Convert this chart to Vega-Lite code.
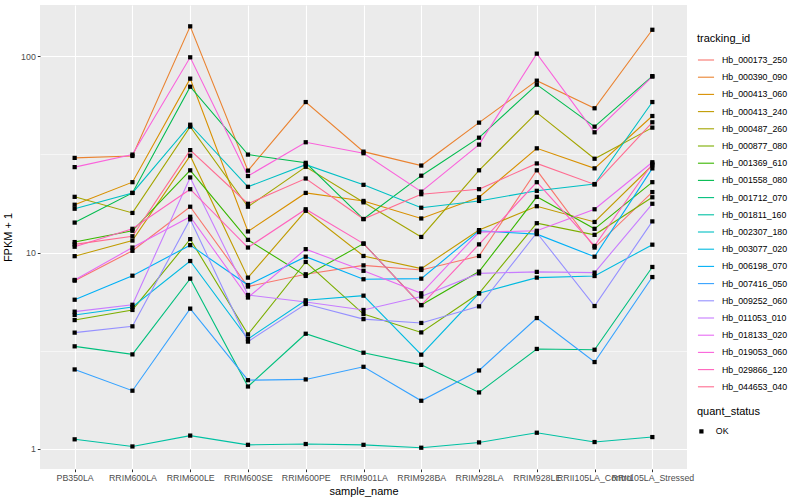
{
"$schema": "https://vega.github.io/schema/vega-lite/v6.json",
"width": 647, "height": 464,
"autosize": {"type": "none"},
"padding": {"left": 40, "top": 5, "right": 113, "bottom": 31},
"background": "white",
"config": {
  "view": {"fill": "#EBEBEB", "stroke": null},
  "font": "Liberation Sans",
  "axis": {"domain": false, "tickColor": "#333333", "tickSize": 2.7, "tickWidth": 1, "labelColor": "#4D4D4D", "labelFontSize": 8.8, "labelPadding": 2, "titleFontSize": 11, "titleFontWeight": "normal", "titleColor": "black", "gridColor": "white"},
  "legend": {"titleFontSize": 11, "titleFontWeight": "normal", "titleColor": "black", "labelFontSize": 8.8, "labelColor": "black", "titlePadding": 7}
},
"data": {"values": [
{"id":"Hb_000173_250","sample":"PB350LA","fpkm":7.19,"status":"OK"},{"id":"Hb_000173_250","sample":"RRIM600LA","fpkm":10.2,"status":"OK"},{"id":"Hb_000173_250","sample":"RRIM600LE","fpkm":17.1,"status":"OK"},{"id":"Hb_000173_250","sample":"RRIM600SE","fpkm":6.71,"status":"OK"},{"id":"Hb_000173_250","sample":"RRIM600PE","fpkm":7.75,"status":"OK"},{"id":"Hb_000173_250","sample":"RRIM901LA","fpkm":8.6,"status":"OK"},{"id":"Hb_000173_250","sample":"RRIM928BA","fpkm":8.15,"status":"OK"},{"id":"Hb_000173_250","sample":"RRIM928LA","fpkm":9.6,"status":"OK"},{"id":"Hb_000173_250","sample":"RRIM928LE","fpkm":26.2,"status":"OK"},{"id":"Hb_000173_250","sample":"RRII105LA_Control","fpkm":10.6,"status":"OK"},{"id":"Hb_000173_250","sample":"RRII105LA_Stressed","fpkm":20.3,"status":"OK"},
{"id":"Hb_000390_090","sample":"PB350LA","fpkm":30.3,"status":"OK"},{"id":"Hb_000390_090","sample":"RRIM600LA","fpkm":31.0,"status":"OK"},{"id":"Hb_000390_090","sample":"RRIM600LE","fpkm":141.6,"status":"OK"},{"id":"Hb_000390_090","sample":"RRIM600SE","fpkm":26.1,"status":"OK"},{"id":"Hb_000390_090","sample":"RRIM600PE","fpkm":58.3,"status":"OK"},{"id":"Hb_000390_090","sample":"RRIM901LA","fpkm":32.6,"status":"OK"},{"id":"Hb_000390_090","sample":"RRIM928BA","fpkm":27.7,"status":"OK"},{"id":"Hb_000390_090","sample":"RRIM928LA","fpkm":45.8,"status":"OK"},{"id":"Hb_000390_090","sample":"RRIM928LE","fpkm":74.9,"status":"OK"},{"id":"Hb_000390_090","sample":"RRII105LA_Control","fpkm":54.2,"status":"OK"},{"id":"Hb_000390_090","sample":"RRII105LA_Stressed","fpkm":136,"status":"OK"},
{"id":"Hb_000413_060","sample":"PB350LA","fpkm":17.5,"status":"OK"},{"id":"Hb_000413_060","sample":"RRIM600LA","fpkm":22.8,"status":"OK"},{"id":"Hb_000413_060","sample":"RRIM600LE","fpkm":76.7,"status":"OK"},{"id":"Hb_000413_060","sample":"RRIM600SE","fpkm":12.8,"status":"OK"},{"id":"Hb_000413_060","sample":"RRIM600PE","fpkm":20.1,"status":"OK"},{"id":"Hb_000413_060","sample":"RRIM901LA","fpkm":18.3,"status":"OK"},{"id":"Hb_000413_060","sample":"RRIM928BA","fpkm":14.9,"status":"OK"},{"id":"Hb_000413_060","sample":"RRIM928LA","fpkm":19.1,"status":"OK"},{"id":"Hb_000413_060","sample":"RRIM928LE","fpkm":33.9,"status":"OK"},{"id":"Hb_000413_060","sample":"RRII105LA_Control","fpkm":26.8,"status":"OK"},{"id":"Hb_000413_060","sample":"RRII105LA_Stressed","fpkm":49.5,"status":"OK"},
{"id":"Hb_000413_240","sample":"PB350LA","fpkm":9.58,"status":"OK"},{"id":"Hb_000413_240","sample":"RRIM600LA","fpkm":11.5,"status":"OK"},{"id":"Hb_000413_240","sample":"RRIM600LE","fpkm":31.1,"status":"OK"},{"id":"Hb_000413_240","sample":"RRIM600SE","fpkm":7.45,"status":"OK"},{"id":"Hb_000413_240","sample":"RRIM600PE","fpkm":16.3,"status":"OK"},{"id":"Hb_000413_240","sample":"RRIM901LA","fpkm":9.6,"status":"OK"},{"id":"Hb_000413_240","sample":"RRIM928BA","fpkm":8.28,"status":"OK"},{"id":"Hb_000413_240","sample":"RRIM928LA","fpkm":13.0,"status":"OK"},{"id":"Hb_000413_240","sample":"RRIM928LE","fpkm":17.2,"status":"OK"},{"id":"Hb_000413_240","sample":"RRII105LA_Control","fpkm":14.3,"status":"OK"},{"id":"Hb_000413_240","sample":"RRII105LA_Stressed","fpkm":27.8,"status":"OK"},
{"id":"Hb_000487_260","sample":"PB350LA","fpkm":19.2,"status":"OK"},{"id":"Hb_000487_260","sample":"RRIM600LA","fpkm":15.9,"status":"OK"},{"id":"Hb_000487_260","sample":"RRIM600LE","fpkm":43.7,"status":"OK"},{"id":"Hb_000487_260","sample":"RRIM600SE","fpkm":17.1,"status":"OK"},{"id":"Hb_000487_260","sample":"RRIM600PE","fpkm":27.3,"status":"OK"},{"id":"Hb_000487_260","sample":"RRIM901LA","fpkm":18.0,"status":"OK"},{"id":"Hb_000487_260","sample":"RRIM928BA","fpkm":12.0,"status":"OK"},{"id":"Hb_000487_260","sample":"RRIM928LA","fpkm":26.2,"status":"OK"},{"id":"Hb_000487_260","sample":"RRIM928LE","fpkm":51.5,"status":"OK"},{"id":"Hb_000487_260","sample":"RRII105LA_Control","fpkm":30.0,"status":"OK"},{"id":"Hb_000487_260","sample":"RRII105LA_Stressed","fpkm":43.2,"status":"OK"},
{"id":"Hb_000877_080","sample":"PB350LA","fpkm":4.53,"status":"OK"},{"id":"Hb_000877_080","sample":"RRIM600LA","fpkm":5.1,"status":"OK"},{"id":"Hb_000877_080","sample":"RRIM600LE","fpkm":11.7,"status":"OK"},{"id":"Hb_000877_080","sample":"RRIM600SE","fpkm":3.83,"status":"OK"},{"id":"Hb_000877_080","sample":"RRIM600PE","fpkm":8.95,"status":"OK"},{"id":"Hb_000877_080","sample":"RRIM901LA","fpkm":4.86,"status":"OK"},{"id":"Hb_000877_080","sample":"RRIM928BA","fpkm":3.92,"status":"OK"},{"id":"Hb_000877_080","sample":"RRIM928LA","fpkm":6.2,"status":"OK"},{"id":"Hb_000877_080","sample":"RRIM928LE","fpkm":14.1,"status":"OK"},{"id":"Hb_000877_080","sample":"RRII105LA_Control","fpkm":12.3,"status":"OK"},{"id":"Hb_000877_080","sample":"RRII105LA_Stressed","fpkm":19.1,"status":"OK"},
{"id":"Hb_001369_610","sample":"PB350LA","fpkm":11.3,"status":"OK"},{"id":"Hb_001369_610","sample":"RRIM600LA","fpkm":12.9,"status":"OK"},{"id":"Hb_001369_610","sample":"RRIM600LE","fpkm":26.2,"status":"OK"},{"id":"Hb_001369_610","sample":"RRIM600SE","fpkm":11.6,"status":"OK"},{"id":"Hb_001369_610","sample":"RRIM600PE","fpkm":7.6,"status":"OK"},{"id":"Hb_001369_610","sample":"RRIM901LA","fpkm":11.1,"status":"OK"},{"id":"Hb_001369_610","sample":"RRIM928BA","fpkm":5.4,"status":"OK"},{"id":"Hb_001369_610","sample":"RRIM928LA","fpkm":8.0,"status":"OK"},{"id":"Hb_001369_610","sample":"RRIM928LE","fpkm":19.2,"status":"OK"},{"id":"Hb_001369_610","sample":"RRII105LA_Control","fpkm":13.2,"status":"OK"},{"id":"Hb_001369_610","sample":"RRII105LA_Stressed","fpkm":22.8,"status":"OK"},
{"id":"Hb_001558_080","sample":"PB350LA","fpkm":14.2,"status":"OK"},{"id":"Hb_001558_080","sample":"RRIM600LA","fpkm":20.1,"status":"OK"},{"id":"Hb_001558_080","sample":"RRIM600LE","fpkm":69.8,"status":"OK"},{"id":"Hb_001558_080","sample":"RRIM600SE","fpkm":31.5,"status":"OK"},{"id":"Hb_001558_080","sample":"RRIM600PE","fpkm":28.6,"status":"OK"},{"id":"Hb_001558_080","sample":"RRIM901LA","fpkm":14.8,"status":"OK"},{"id":"Hb_001558_080","sample":"RRIM928BA","fpkm":24.6,"status":"OK"},{"id":"Hb_001558_080","sample":"RRIM928LA","fpkm":38.4,"status":"OK"},{"id":"Hb_001558_080","sample":"RRIM928LE","fpkm":71.5,"status":"OK"},{"id":"Hb_001558_080","sample":"RRII105LA_Control","fpkm":43.7,"status":"OK"},{"id":"Hb_001558_080","sample":"RRII105LA_Stressed","fpkm":79,"status":"OK"},
{"id":"Hb_001712_070","sample":"PB350LA","fpkm":3.33,"status":"OK"},{"id":"Hb_001712_070","sample":"RRIM600LA","fpkm":3.03,"status":"OK"},{"id":"Hb_001712_070","sample":"RRIM600LE","fpkm":7.36,"status":"OK"},{"id":"Hb_001712_070","sample":"RRIM600SE","fpkm":2.08,"status":"OK"},{"id":"Hb_001712_070","sample":"RRIM600PE","fpkm":3.86,"status":"OK"},{"id":"Hb_001712_070","sample":"RRIM901LA","fpkm":3.09,"status":"OK"},{"id":"Hb_001712_070","sample":"RRIM928BA","fpkm":2.68,"status":"OK"},{"id":"Hb_001712_070","sample":"RRIM928LA","fpkm":1.94,"status":"OK"},{"id":"Hb_001712_070","sample":"RRIM928LE","fpkm":3.23,"status":"OK"},{"id":"Hb_001712_070","sample":"RRII105LA_Control","fpkm":3.2,"status":"OK"},{"id":"Hb_001712_070","sample":"RRII105LA_Stressed","fpkm":8.44,"status":"OK"},
{"id":"Hb_001811_160","sample":"PB350LA","fpkm":1.12,"status":"OK"},{"id":"Hb_001811_160","sample":"RRIM600LA","fpkm":1.03,"status":"OK"},{"id":"Hb_001811_160","sample":"RRIM600LE","fpkm":1.17,"status":"OK"},{"id":"Hb_001811_160","sample":"RRIM600SE","fpkm":1.05,"status":"OK"},{"id":"Hb_001811_160","sample":"RRIM600PE","fpkm":1.06,"status":"OK"},{"id":"Hb_001811_160","sample":"RRIM901LA","fpkm":1.05,"status":"OK"},{"id":"Hb_001811_160","sample":"RRIM928BA","fpkm":1.015,"status":"OK"},{"id":"Hb_001811_160","sample":"RRIM928LA","fpkm":1.08,"status":"OK"},{"id":"Hb_001811_160","sample":"RRIM928LE","fpkm":1.21,"status":"OK"},{"id":"Hb_001811_160","sample":"RRII105LA_Control","fpkm":1.085,"status":"OK"},{"id":"Hb_001811_160","sample":"RRII105LA_Stressed","fpkm":1.15,"status":"OK"},
{"id":"Hb_002307_180","sample":"PB350LA","fpkm":16.7,"status":"OK"},{"id":"Hb_002307_180","sample":"RRIM600LA","fpkm":20.1,"status":"OK"},{"id":"Hb_002307_180","sample":"RRIM600LE","fpkm":44.7,"status":"OK"},{"id":"Hb_002307_180","sample":"RRIM600SE","fpkm":21.6,"status":"OK"},{"id":"Hb_002307_180","sample":"RRIM600PE","fpkm":28.0,"status":"OK"},{"id":"Hb_002307_180","sample":"RRIM901LA","fpkm":22.1,"status":"OK"},{"id":"Hb_002307_180","sample":"RRIM928BA","fpkm":16.9,"status":"OK"},{"id":"Hb_002307_180","sample":"RRIM928LA","fpkm":18.3,"status":"OK"},{"id":"Hb_002307_180","sample":"RRIM928LE","fpkm":20.6,"status":"OK"},{"id":"Hb_002307_180","sample":"RRII105LA_Control","fpkm":22.3,"status":"OK"},{"id":"Hb_002307_180","sample":"RRII105LA_Stressed","fpkm":58.3,"status":"OK"},
{"id":"Hb_003077_020","sample":"PB350LA","fpkm":4.81,"status":"OK"},{"id":"Hb_003077_020","sample":"RRIM600LA","fpkm":5.28,"status":"OK"},{"id":"Hb_003077_020","sample":"RRIM600LE","fpkm":9.05,"status":"OK"},{"id":"Hb_003077_020","sample":"RRIM600SE","fpkm":3.63,"status":"OK"},{"id":"Hb_003077_020","sample":"RRIM600PE","fpkm":5.71,"status":"OK"},{"id":"Hb_003077_020","sample":"RRIM901LA","fpkm":6.03,"status":"OK"},{"id":"Hb_003077_020","sample":"RRIM928BA","fpkm":3.02,"status":"OK"},{"id":"Hb_003077_020","sample":"RRIM928LA","fpkm":6.2,"status":"OK"},{"id":"Hb_003077_020","sample":"RRIM928LE","fpkm":7.45,"status":"OK"},{"id":"Hb_003077_020","sample":"RRII105LA_Control","fpkm":7.59,"status":"OK"},{"id":"Hb_003077_020","sample":"RRII105LA_Stressed","fpkm":10.96,"status":"OK"},
{"id":"Hb_006198_070","sample":"PB350LA","fpkm":5.75,"status":"OK"},{"id":"Hb_006198_070","sample":"RRIM600LA","fpkm":7.62,"status":"OK"},{"id":"Hb_006198_070","sample":"RRIM600LE","fpkm":10.9,"status":"OK"},{"id":"Hb_006198_070","sample":"RRIM600SE","fpkm":6.83,"status":"OK"},{"id":"Hb_006198_070","sample":"RRIM600PE","fpkm":9.52,"status":"OK"},{"id":"Hb_006198_070","sample":"RRIM901LA","fpkm":7.31,"status":"OK"},{"id":"Hb_006198_070","sample":"RRIM928BA","fpkm":7.36,"status":"OK"},{"id":"Hb_006198_070","sample":"RRIM928LA","fpkm":12.9,"status":"OK"},{"id":"Hb_006198_070","sample":"RRIM928LE","fpkm":12.4,"status":"OK"},{"id":"Hb_006198_070","sample":"RRII105LA_Control","fpkm":9.52,"status":"OK"},{"id":"Hb_006198_070","sample":"RRII105LA_Stressed","fpkm":26.8,"status":"OK"},
{"id":"Hb_007416_050","sample":"PB350LA","fpkm":2.54,"status":"OK"},{"id":"Hb_007416_050","sample":"RRIM600LA","fpkm":1.98,"status":"OK"},{"id":"Hb_007416_050","sample":"RRIM600LE","fpkm":5.18,"status":"OK"},{"id":"Hb_007416_050","sample":"RRIM600SE","fpkm":2.24,"status":"OK"},{"id":"Hb_007416_050","sample":"RRIM600PE","fpkm":2.26,"status":"OK"},{"id":"Hb_007416_050","sample":"RRIM901LA","fpkm":2.62,"status":"OK"},{"id":"Hb_007416_050","sample":"RRIM928BA","fpkm":1.76,"status":"OK"},{"id":"Hb_007416_050","sample":"RRIM928LA","fpkm":2.51,"status":"OK"},{"id":"Hb_007416_050","sample":"RRIM928LE","fpkm":4.64,"status":"OK"},{"id":"Hb_007416_050","sample":"RRII105LA_Control","fpkm":2.77,"status":"OK"},{"id":"Hb_007416_050","sample":"RRII105LA_Stressed","fpkm":7.5,"status":"OK"},
{"id":"Hb_009252_060","sample":"PB350LA","fpkm":3.91,"status":"OK"},{"id":"Hb_009252_060","sample":"RRIM600LA","fpkm":4.21,"status":"OK"},{"id":"Hb_009252_060","sample":"RRIM600LE","fpkm":14.75,"status":"OK"},{"id":"Hb_009252_060","sample":"RRIM600SE","fpkm":3.52,"status":"OK"},{"id":"Hb_009252_060","sample":"RRIM600PE","fpkm":5.47,"status":"OK"},{"id":"Hb_009252_060","sample":"RRIM901LA","fpkm":4.58,"status":"OK"},{"id":"Hb_009252_060","sample":"RRIM928BA","fpkm":4.38,"status":"OK"},{"id":"Hb_009252_060","sample":"RRIM928LA","fpkm":5.32,"status":"OK"},{"id":"Hb_009252_060","sample":"RRIM928LE","fpkm":12.6,"status":"OK"},{"id":"Hb_009252_060","sample":"RRII105LA_Control","fpkm":5.34,"status":"OK"},{"id":"Hb_009252_060","sample":"RRII105LA_Stressed","fpkm":14.4,"status":"OK"},
{"id":"Hb_011053_010","sample":"PB350LA","fpkm":5.0,"status":"OK"},{"id":"Hb_011053_010","sample":"RRIM600LA","fpkm":5.42,"status":"OK"},{"id":"Hb_011053_010","sample":"RRIM600LE","fpkm":24.1,"status":"OK"},{"id":"Hb_011053_010","sample":"RRIM600SE","fpkm":6.08,"status":"OK"},{"id":"Hb_011053_010","sample":"RRIM600PE","fpkm":5.6,"status":"OK"},{"id":"Hb_011053_010","sample":"RRIM901LA","fpkm":5.1,"status":"OK"},{"id":"Hb_011053_010","sample":"RRIM928BA","fpkm":5.97,"status":"OK"},{"id":"Hb_011053_010","sample":"RRIM928LA","fpkm":7.83,"status":"OK"},{"id":"Hb_011053_010","sample":"RRIM928LE","fpkm":7.97,"status":"OK"},{"id":"Hb_011053_010","sample":"RRII105LA_Control","fpkm":7.9,"status":"OK"},{"id":"Hb_011053_010","sample":"RRII105LA_Stressed","fpkm":17.7,"status":"OK"},
{"id":"Hb_018133_020","sample":"PB350LA","fpkm":7.25,"status":"OK"},{"id":"Hb_018133_020","sample":"RRIM600LA","fpkm":10.6,"status":"OK"},{"id":"Hb_018133_020","sample":"RRIM600LE","fpkm":15.2,"status":"OK"},{"id":"Hb_018133_020","sample":"RRIM600SE","fpkm":5.9,"status":"OK"},{"id":"Hb_018133_020","sample":"RRIM600PE","fpkm":10.4,"status":"OK"},{"id":"Hb_018133_020","sample":"RRIM901LA","fpkm":8.07,"status":"OK"},{"id":"Hb_018133_020","sample":"RRIM928BA","fpkm":6.2,"status":"OK"},{"id":"Hb_018133_020","sample":"RRIM928LA","fpkm":12.7,"status":"OK"},{"id":"Hb_018133_020","sample":"RRIM928LE","fpkm":12.9,"status":"OK"},{"id":"Hb_018133_020","sample":"RRII105LA_Control","fpkm":16.6,"status":"OK"},{"id":"Hb_018133_020","sample":"RRII105LA_Stressed","fpkm":28.8,"status":"OK"},
{"id":"Hb_019053_060","sample":"PB350LA","fpkm":27.2,"status":"OK"},{"id":"Hb_019053_060","sample":"RRIM600LA","fpkm":31.5,"status":"OK"},{"id":"Hb_019053_060","sample":"RRIM600LE","fpkm":98.5,"status":"OK"},{"id":"Hb_019053_060","sample":"RRIM600SE","fpkm":24.5,"status":"OK"},{"id":"Hb_019053_060","sample":"RRIM600PE","fpkm":36.4,"status":"OK"},{"id":"Hb_019053_060","sample":"RRIM901LA","fpkm":32.0,"status":"OK"},{"id":"Hb_019053_060","sample":"RRIM928BA","fpkm":20.4,"status":"OK"},{"id":"Hb_019053_060","sample":"RRIM928LA","fpkm":35.4,"status":"OK"},{"id":"Hb_019053_060","sample":"RRIM928LE","fpkm":102.8,"status":"OK"},{"id":"Hb_019053_060","sample":"RRII105LA_Control","fpkm":40.9,"status":"OK"},{"id":"Hb_019053_060","sample":"RRII105LA_Stressed","fpkm":78.6,"status":"OK"},
{"id":"Hb_029866_120","sample":"PB350LA","fpkm":10.7,"status":"OK"},{"id":"Hb_029866_120","sample":"RRIM600LA","fpkm":13.2,"status":"OK"},{"id":"Hb_029866_120","sample":"RRIM600LE","fpkm":21.0,"status":"OK"},{"id":"Hb_029866_120","sample":"RRIM600SE","fpkm":10.6,"status":"OK"},{"id":"Hb_029866_120","sample":"RRIM600PE","fpkm":16.6,"status":"OK"},{"id":"Hb_029866_120","sample":"RRIM901LA","fpkm":11.1,"status":"OK"},{"id":"Hb_029866_120","sample":"RRIM928BA","fpkm":5.4,"status":"OK"},{"id":"Hb_029866_120","sample":"RRIM928LA","fpkm":11.0,"status":"OK"},{"id":"Hb_029866_120","sample":"RRIM928LE","fpkm":22.8,"status":"OK"},{"id":"Hb_029866_120","sample":"RRII105LA_Control","fpkm":10.8,"status":"OK"},{"id":"Hb_029866_120","sample":"RRII105LA_Stressed","fpkm":28.3,"status":"OK"},
{"id":"Hb_044653_040","sample":"PB350LA","fpkm":11.0,"status":"OK"},{"id":"Hb_044653_040","sample":"RRIM600LA","fpkm":12.1,"status":"OK"},{"id":"Hb_044653_040","sample":"RRIM600LE","fpkm":33.2,"status":"OK"},{"id":"Hb_044653_040","sample":"RRIM600SE","fpkm":17.7,"status":"OK"},{"id":"Hb_044653_040","sample":"RRIM600PE","fpkm":23.8,"status":"OK"},{"id":"Hb_044653_040","sample":"RRIM901LA","fpkm":14.8,"status":"OK"},{"id":"Hb_044653_040","sample":"RRIM928BA","fpkm":19.8,"status":"OK"},{"id":"Hb_044653_040","sample":"RRIM928LA","fpkm":21.0,"status":"OK"},{"id":"Hb_044653_040","sample":"RRIM928LE","fpkm":28.4,"status":"OK"},{"id":"Hb_044653_040","sample":"RRII105LA_Control","fpkm":22.2,"status":"OK"},{"id":"Hb_044653_040","sample":"RRII105LA_Stressed","fpkm":46.0,"status":"OK"}
]},
"encoding": {
  "x": {"field": "sample", "type": "nominal", "sort": ["PB350LA","RRIM600LA","RRIM600LE","RRIM600SE","RRIM600PE","RRIM901LA","RRIM928BA","RRIM928LA","RRIM928LE","RRII105LA_Control","RRII105LA_Stressed"],
        "scale": {"type": "point", "padding": 0.6},
        "axis": {"title": "sample_name", "labelAngle": 0, "labelOverlap": false, "labelBound": false, "grid": true, "gridWidth": 1.1, "titlePadding": 3}},
  "y": {"field": "fpkm", "type": "quantitative",
        "scale": {"type": "log", "domain": [0.791, 181.8], "nice": false, "zero": false},
        "axis": {"title": "FPKM + 1", "values": [1, 3.1623, 10, 31.623, 100],
                 "labelExpr": "(datum.value == 1 || datum.value == 10 || datum.value == 100) ? format(datum.value, 'd') : ''",
                 "grid": true,
                 "gridWidth": {"condition": {"test": "datum.value == 1 || datum.value == 10 || datum.value == 100", "value": 1.1}, "value": 0.55},
                 "tickColor": {"condition": {"test": "datum.value == 1 || datum.value == 10 || datum.value == 100", "value": "#333333"}, "value": "transparent"},
                 "titlePadding": 7}}
},
"layer": [
  {"mark": {"type": "line", "strokeWidth": 1.1},
   "encoding": {
     "color": {"field": "id", "type": "nominal",
       "scale": {"domain": ["Hb_000173_250","Hb_000390_090","Hb_000413_060","Hb_000413_240","Hb_000487_260","Hb_000877_080","Hb_001369_610","Hb_001558_080","Hb_001712_070","Hb_001811_160","Hb_002307_180","Hb_003077_020","Hb_006198_070","Hb_007416_050","Hb_009252_060","Hb_011053_010","Hb_018133_020","Hb_019053_060","Hb_029866_120","Hb_044653_040"],
                 "range": ["#F8766D","#EA8331","#D89000","#C09B00","#A3A500","#7CAE00","#39B600","#00BB4E","#00BF7D","#00C1A3","#00BFC4","#00BAE0","#00B0F6","#35A2FF","#9590FF","#C77CFF","#E76BF3","#FA62DB","#FF62BC","#FF6C91"]},
       "legend": {"title": "tracking_id", "orient": "none", "legendX": 657, "legendY": 28, "symbolType": "stroke", "symbolSize": 260, "symbolStrokeWidth": 1.1, "rowPadding": 3.2, "labelOffset": 7}}
   }},
  {"mark": {"type": "point", "filled": true, "size": 18, "color": "black", "opacity": 1},
   "encoding": {
     "shape": {"field": "status", "type": "nominal", "scale": {"range": ["square"]},
       "legend": {"title": "quant_status", "orient": "none", "legendX": 657, "legendY": 401, "symbolSize": 18, "symbolFillColor": "black", "symbolStrokeColor": "black", "labelOffset": 10, "titlePadding": 10}}
   }}
]
}
